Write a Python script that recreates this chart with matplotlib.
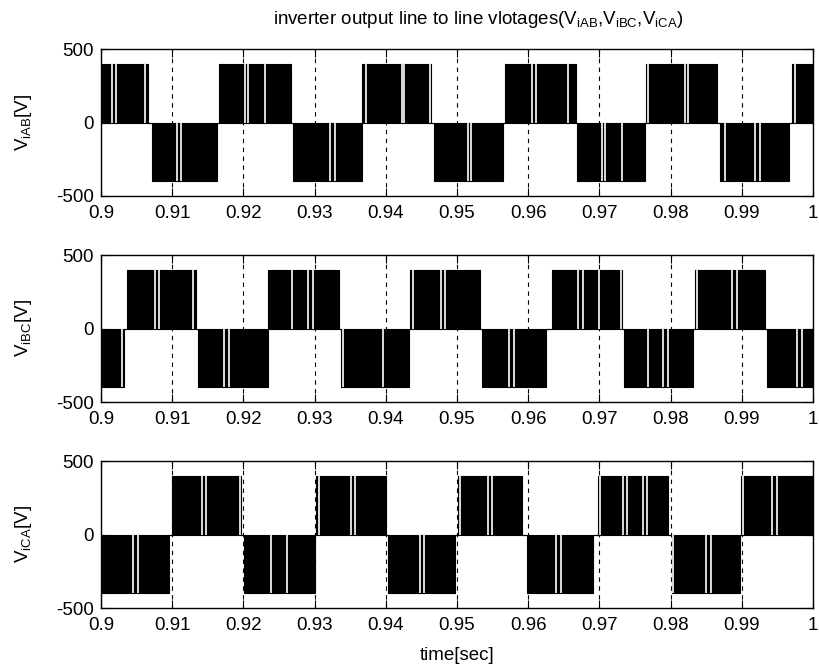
import numpy as np
import matplotlib.pyplot as plt

plt.rcParams['font.family'] = ['Liberation Sans', 'DejaVu Sans']
plt.rcParams['mathtext.default'] = 'regular'

# axis settings
xticks = [0.9, 0.91, 0.92, 0.93, 0.94, 0.95, 0.96, 0.97, 0.98, 0.99, 1.0]
xticklabels = ['0.9', '0.91', '0.92', '0.93', '0.94', '0.95', '0.96', '0.97', '0.98', '0.99', '1']
yticks = [-500, 0, 500]
ylabels = ['$V_{iAB}$[V]', '$V_{iBC}$[V]', '$V_{iCA}$[V]']
vdc = 400

# V_iAB pulse blocks (start, end, sign) and the white notches inside them
vab_start = [0.9, 0.9071, 0.9166, 0.9270, 0.9367, 0.9467, 0.9567, 0.9669, 0.9765, 0.9869, 0.9970]
vab_end = [0.9066, 0.9163, 0.9267, 0.9366, 0.9464, 0.9565, 0.9667, 0.9764, 0.9865, 0.9966, 1.0]
vab_sign = [1, -1, 1, -1, 1, -1, 1, -1, 1, -1, 1]
vab_notch = [0.90149, 0.90205, 0.90617, 0.91072, 0.91117, 0.92020, 0.92066, 0.92309,
             0.93220, 0.93290, 0.93721, 0.94226, 0.94258, 0.94623, 0.95151, 0.95198,
             0.96049, 0.96105, 0.96554, 0.97030, 0.97077, 0.97311, 0.97686, 0.98200,
             0.98247, 0.98760, 0.99181, 0.99251, 0.99740]

# V_iBC
vbc_start = [0.9, 0.90365, 0.91369, 0.9234, 0.9337, 0.9434, 0.9535, 0.9633, 0.9734, 0.9834, 0.9936]
vbc_end = [0.90317, 0.91337, 0.92351, 0.93347, 0.9433, 0.9533, 0.9625, 0.9732, 0.9831, 0.9933, 1.0]
vbc_sign = [-1, 1, -1, 1, -1, 1, -1, 1, -1, 1, -1]
vbc_notch = [0.90294, 0.90752, 0.90818, 0.91299, 0.91729, 0.91804, 0.92687, 0.92912,
             0.92982, 0.93394, 0.93955, 0.94384, 0.94778, 0.94836, 0.95736, 0.95806,
             0.96695, 0.96765, 0.97000, 0.97303, 0.97676, 0.97887, 0.97957, 0.98375,
             0.98869, 0.98939, 0.99780, 0.99850]

# V_iCA
vca_start = [0.9, 0.9100, 0.92006, 0.93024, 0.9403, 0.95007, 0.95979, 0.96985, 0.98013, 0.98994]
vca_end = [0.90954, 0.91972, 0.9301, 0.9400, 0.94974, 0.95909, 0.96914, 0.97966, 0.98971, 1.0]
vca_sign = [-1, 1, -1, 1, -1, 1, -1, 1, -1, 1]
vca_notch = [0.90453, 0.90523, 0.91421, 0.91481, 0.91949, 0.92389, 0.92613, 0.93057,
             0.93511, 0.93571, 0.94474, 0.94530, 0.95042, 0.95431, 0.95487, 0.96387,
             0.96457, 0.97010, 0.97338, 0.97384, 0.97618, 0.97664, 0.98035, 0.98502,
             0.98572, 0.99022, 0.99419, 0.99489]

channels = [
    (vab_start, vab_end, vab_sign, vab_notch),
    (vbc_start, vbc_end, vbc_sign, vbc_notch),
    (vca_start, vca_end, vca_sign, vca_notch),
]

# axes boxes in figure fractions
boxes = [
    [0.1233, 0.7066, 0.8694, 0.2200],
    [0.1233, 0.3982, 0.8694, 0.2200],
    [0.1233, 0.0898, 0.8694, 0.2200],
]

fs = 13.5


def build_wave(starts, ends, signs):
    t, v = [], []
    for s, e, sg in zip(starts, ends, signs):
        t += [s, s, e, e]
        v += [0, sg * vdc, sg * vdc, 0]
    return np.array(t), np.array(v)


fig = plt.figure(figsize=(8.19, 6.68), dpi=100)

for i, (starts, ends, signs, notches) in enumerate(channels):
    ax = fig.add_axes(boxes[i])
    t, v = build_wave(starts, ends, signs)
    ax.fill_between(t, v, 0, color='black', lw=0, zorder=2)
    ax.plot(t, v, color='black', lw=0.8, zorder=3)
    ax.plot([0.9, 1.0], [0, 0], color='black', lw=0.8, zorder=3)

    # white notches of the pwm pattern
    idx = np.searchsorted(starts, notches, side='right') - 1
    lev = np.array(signs)[idx] * vdc
    ax.vlines(notches, 0, lev, color='white', lw=1.2, zorder=4)

    ax.set_xlim(0.9, 1.0)
    ax.set_ylim(-500, 500)
    ax.set_xticks(xticks)
    ax.set_xticklabels(xticklabels)
    ax.set_yticks(yticks)
    ax.set_yticklabels(['-500', '0', '500'])
    ax.tick_params(direction='in', top=True, right=True, length=6, width=0.8,
                   labelsize=fs)
    ax.tick_params(axis='x', pad=6.5)
    ax.tick_params(axis='y', pad=5)
    ax.xaxis.grid(True, linestyle=(0, (4, 4)), color='black', lw=0.8)
    ax.set_axisbelow(True)
    for sp in ax.spines.values():
        sp.set_linewidth(1.0)
        sp.set_zorder(5)
    ax.set_ylabel(ylabels[i], fontsize=fs, labelpad=16)

    if i == 0:
        ax.set_title('inverter output line to line vlotages($V_{iAB}$,$V_{iBC}$,$V_{iCA}$)',
                     fontsize=fs, pad=18, x=0.53)
    if i == 2:
        ax.set_xlabel('time[sec]', fontsize=fs, labelpad=9)

fig.savefig('out.png', dpi=100)
